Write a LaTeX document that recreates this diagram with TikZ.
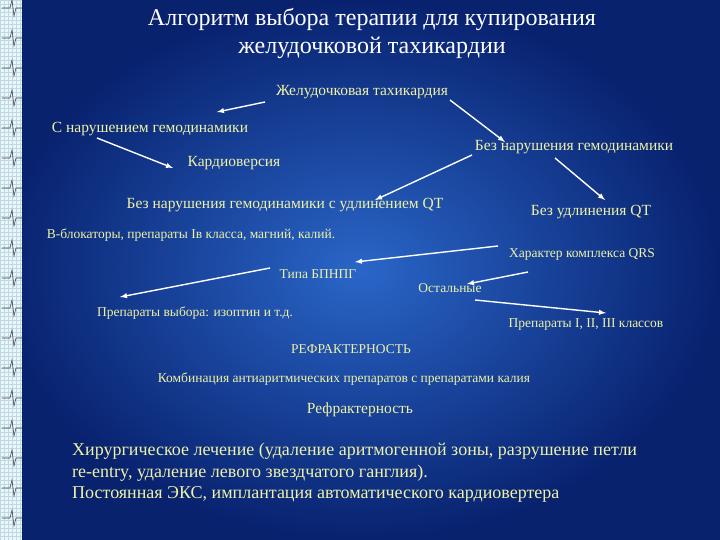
\documentclass[tikz,border=0pt]{standalone}
\usepackage{fontspec}
\setmainfont{Liberation Serif}
\begin{document}
\begin{tikzpicture}[x=1pt,y=-1pt,
  lbl/.style={text=txt,font=\fontsize{15.5}{18}\selectfont,inner sep=1pt},
  sml/.style={text=txt,font=\fontsize{13.5}{16}\selectfont,inner sep=1pt},
  arr/.style={draw=white,line width=1.4pt,-latex}]
\definecolor{txt}{HTML}{EEF2A8}
\definecolor{bgd}{HTML}{0A2A8A}
\definecolor{bgl}{HTML}{2A66C8}
\useasboundingbox (0,0) rectangle (720,540);
\shade[inner color=bgl,outer color=bgd!80!black] (0,0) rectangle (720,540);
\fill[cyan!10!white] (0,0) rectangle (22,540);
\draw[cyan!30!gray!40,line width=0.3pt,step=4pt] (0,0) grid (22,540);
\foreach \k in {0,...,17}{\draw[gray!50!black,line width=0.6pt] (2,{\k*30+8}) -- (10,{\k*30+8}) -- (12,{\k*30}) -- (14,{\k*30+16}) -- (16,{\k*30+8}) -- (22,{\k*30+8});}
\node[text=white,font=\fontsize{24}{28}\selectfont,align=center] (title) at (372,34) {Алгоритм выбора терапии для купирования\\желудочковой тахикардии};
\node[lbl] (vt) at (362,92) {Желудочковая тахикардия};
\node[lbl] (h1) at (150,129) {С нарушением гемодинамики};
\node[lbl] (h0) at (574,147) {Без нарушения гемодинамики};
\node[lbl] (cv) at (234,163) {Кардиоверсия};
\node[lbl] (qt1) at (285,205) {Без нарушения гемодинамики с удлинением QT};
\node[lbl] (qt0) at (591,212) {Без удлинения QT};
\node[sml] (bb) at (191,235) {В-блокаторы, препараты Iв класса, магний, калий.};
\node[sml] (qrs) at (582,254) {Характер комплекса QRS};
\node[sml] (bp) at (318,274) {Типа БПНПГ};
\node[sml] (ost) at (450,288) {Остальные};
\node[sml] (izo) at (195,313) {Препараты выбора: изоптин и т.д.};
\node[sml] (p123) at (586,325) {Препараты I, II, III классов};
\node[sml] (ref1) at (351,349) {РЕФРАКТЕРНОСТЬ};
\node[sml] (komb) at (344,379) {Комбинация антиаритмических препаратов с препаратами калия};
\node[lbl] (ref2) at (360,410) {Рефрактерность};
\node[text=txt,font=\fontsize{18}{21.5}\selectfont,align=left,anchor=north west,inner sep=0pt] (surg) at (72,443) {Хирургическое лечение (удаление аритмогенной зоны, разрушение петли\\ re-entry, удаление левого звездчатого ганглия).\\ Постоянная ЭКС, имплантация автоматического кардиовертера};
\draw[arr] ([shift={(-97,10)}]vt.center) -- ([shift={(67,-17)}]h1.center);
\draw[arr] ([shift={(88,8)}]vt.center) -- ([shift={(-69,-5)}]h0.center);
\draw[arr] ([shift={(-53,9)}]h1.center) -- ([shift={(-61,5)}]cv.center);
\draw[arr] ([shift={(-102,8)}]h0.center) -- ([shift={(90,-5)}]qt1.center);
\draw[arr] ([shift={(-19,11)}]h0.center) -- ([shift={(14,-12)}]qt0.center);
\draw[arr] ([shift={(-84,-8)}]qrs.center) -- ([shift={(37,-12)}]bp.center);
\draw[arr] ([shift={(-54,18)}]qrs.center) -- ([shift={(17,-4)}]ost.center);
\draw[arr] ([shift={(-48,-6)}]bp.center) -- ([shift={(-75,-16)}]izo.center);
\draw[arr] ([shift={(25,12)}]ost.center) -- ([shift={(20,-12)}]p123.center);
\end{tikzpicture}
\end{document}
